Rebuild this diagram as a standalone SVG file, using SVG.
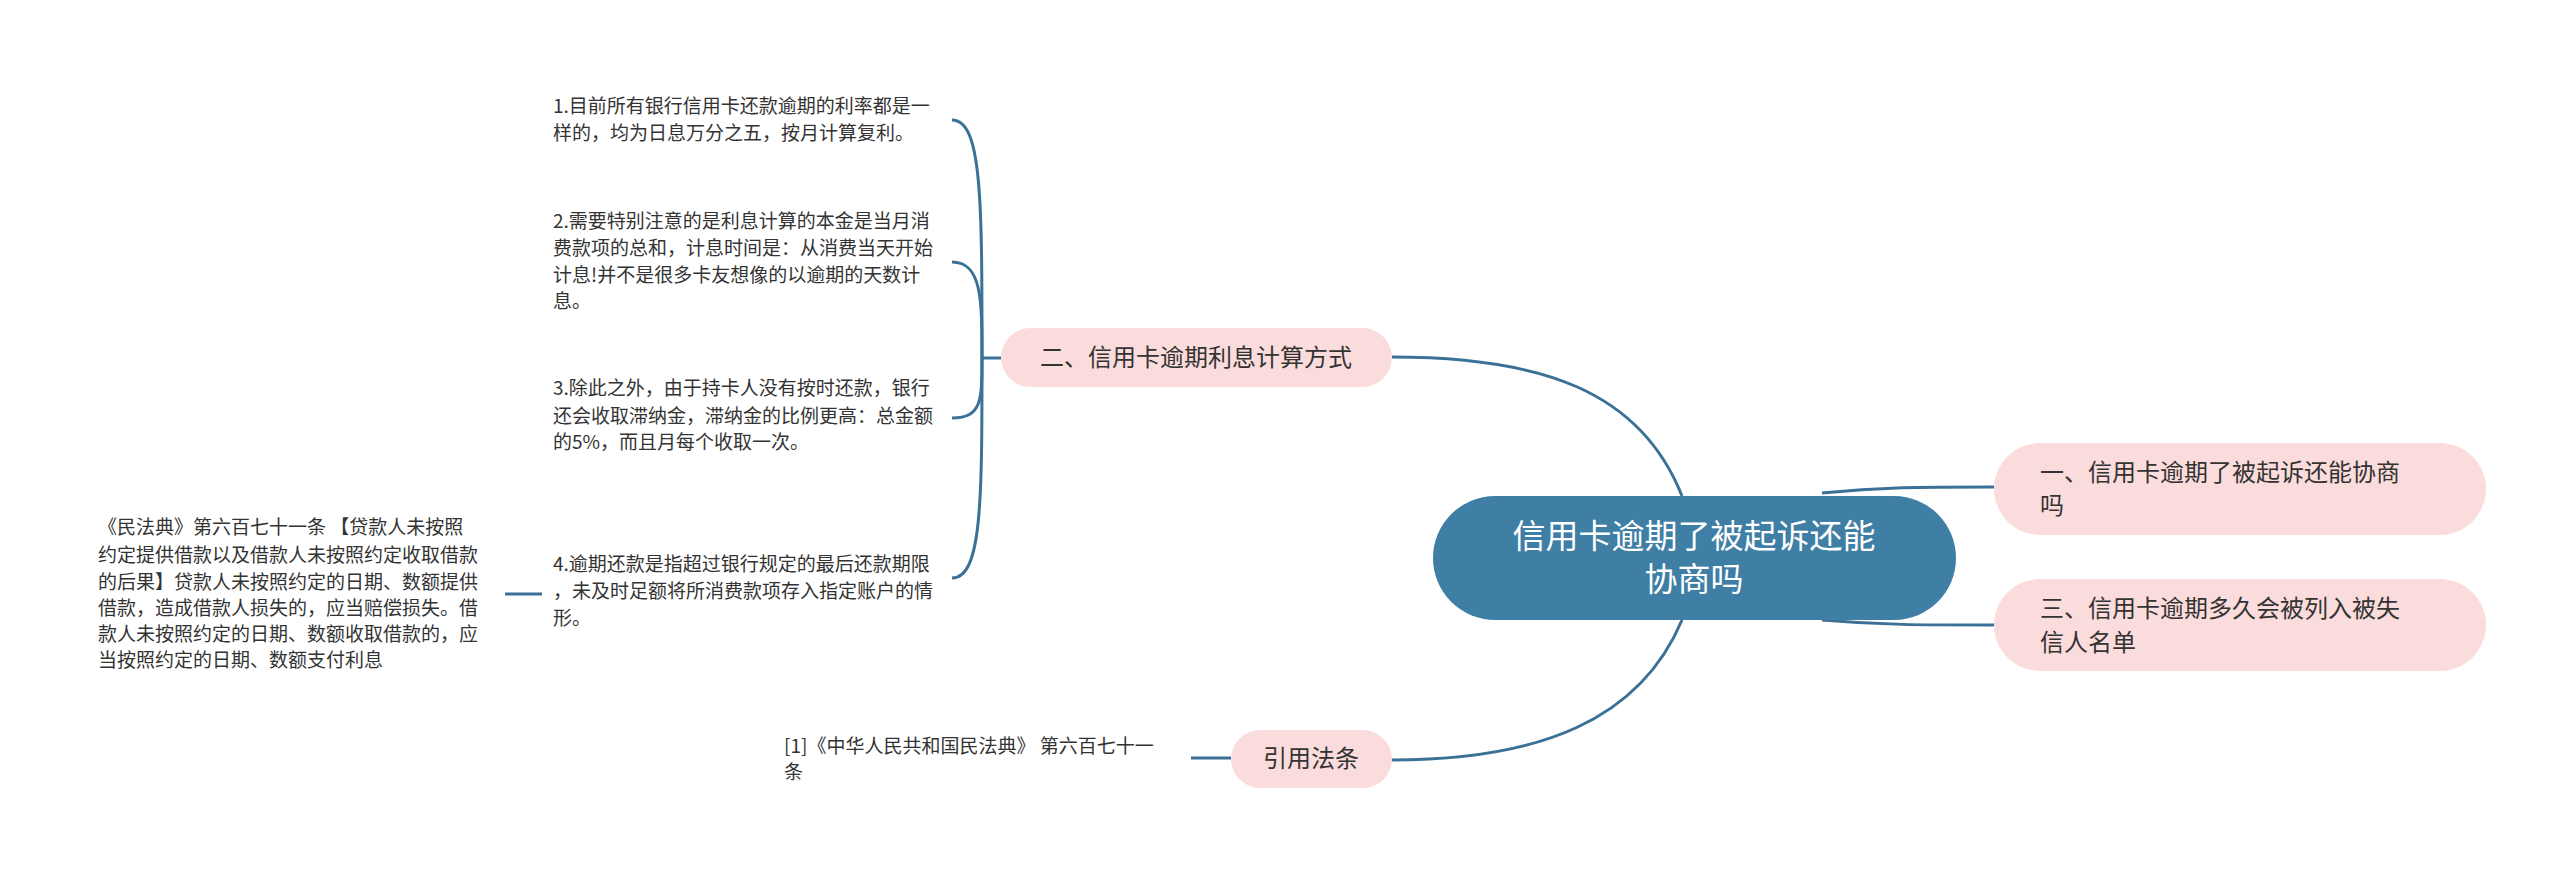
<svg xmlns="http://www.w3.org/2000/svg" width="2560" height="875" viewBox="0 0 2560 875">
<style>
.c{fill:none;stroke:#3b7196;stroke-width:3}
.p{fill:#fbdcdc}
.t{font-family:"Noto Sans CJK SC","Liberation Sans",sans-serif;fill:#333}
.s{font-size:19px}
.m{font-size:24px}
</style>
<rect width="2560" height="875" fill="#fff"/>
<g id="connectors">
<path class="c" d="M1682,496 C1640,390 1540,357 1392,357"/>
<path class="c" d="M1682,620 C1640,720 1540,760 1392,760"/>
<path class="c" d="M1822,493 C1880,487 1920,487 1994,487"/>
<path class="c" d="M1822,620 C1880,625 1920,625 1994,625"/>
<path class="c" d="M1001,358 L982,358"/>
<path class="c" d="M982,358 C982,200 982,120 952,120"/>
<path class="c" d="M982,358 C982,300 982,262 952,262"/>
<path class="c" d="M982,358 C982,400 982,418 952,418"/>
<path class="c" d="M982,358 C982,500 982,578 952,578"/>
<path class="c" d="M505,594 L542,594"/>
<path class="c" d="M1191,758 L1231,758"/>
</g>
<g id="root">
<rect x="1433" y="496" width="523" height="124" rx="62" fill="#3f7ea5"/>
<text class="t" x="1694" y="548" font-size="33" text-anchor="middle" fill="#fff" style="fill:#fff">信用卡逾期了被起诉还能</text>
<text class="t" x="1694" y="591" font-size="33" text-anchor="middle" style="fill:#fff">协商吗</text>
</g>
<g id="n1">
<rect class="p" x="1994" y="443" width="492" height="92" rx="46"/>
<text class="t m" x="2040" y="481">一、信用卡逾期了被起诉还能协商</text>
<text class="t m" x="2040" y="514">吗</text>
</g>
<g id="n3">
<rect class="p" x="1994" y="579" width="492" height="92" rx="46"/>
<text class="t m" x="2040" y="617">三、信用卡逾期多久会被列入被失</text>
<text class="t m" x="2040" y="651">信人名单</text>
</g>
<g id="n2">
<rect class="p" x="1001" y="328" width="391" height="59" rx="29.5"/>
<text class="t m" x="1196" y="366" text-anchor="middle">二、信用卡逾期利息计算方式</text>
</g>
<g id="nref">
<rect class="p" x="1231" y="730" width="161" height="58" rx="29"/>
<text class="t m" x="1311" y="767" text-anchor="middle">引用法条</text>
</g>
<g id="leaf1" class="t s">
<text x="553" y="113">1.目前所有银行信用卡还款逾期的利率都是一</text>
<text x="553" y="140">样的，均为日息万分之五，按月计算复利。</text>
</g>
<g id="leaf2" class="t s">
<text x="553" y="228">2.需要特别注意的是利息计算的本金是当月消</text>
<text x="553" y="255">费款项的总和，计息时间是：从消费当天开始</text>
<text x="553" y="282">计息!并不是很多卡友想像的以逾期的天数计</text>
<text x="553" y="308">息。</text>
</g>
<g id="leaf3" class="t s">
<text x="553" y="395">3.除此之外，由于持卡人没有按时还款，银行</text>
<text x="553" y="423">还会收取滞纳金，滞纳金的比例更高：总金额</text>
<text x="553" y="449">的5%，而且月每个收取一次。</text>
</g>
<g id="leaf4" class="t s">
<text x="553" y="571">4.逾期还款是指超过银行规定的最后还款期限</text>
<text x="553" y="598">，未及时足额将所消费款项存入指定账户的情</text>
<text x="553" y="625">形。</text>
</g>
<g id="law" class="t s">
<text x="98" y="534">《民法典》第六百七十一条 【贷款人未按照</text>
<text x="98" y="562">约定提供借款以及借款人未按照约定收取借款</text>
<text x="98" y="589">的后果】贷款人未按照约定的日期、数额提供</text>
<text x="98" y="615">借款，造成借款人损失的，应当赔偿损失。借</text>
<text x="98" y="641">款人未按照约定的日期、数额收取借款的，应</text>
<text x="98" y="667">当按照约定的日期、数额支付利息</text>
</g>
<g id="ref" class="t s">
<text x="784" y="753">[1]《中华人民共和国民法典》 第六百七十一</text>
<text x="784" y="779">条</text>
</g>
</svg>
